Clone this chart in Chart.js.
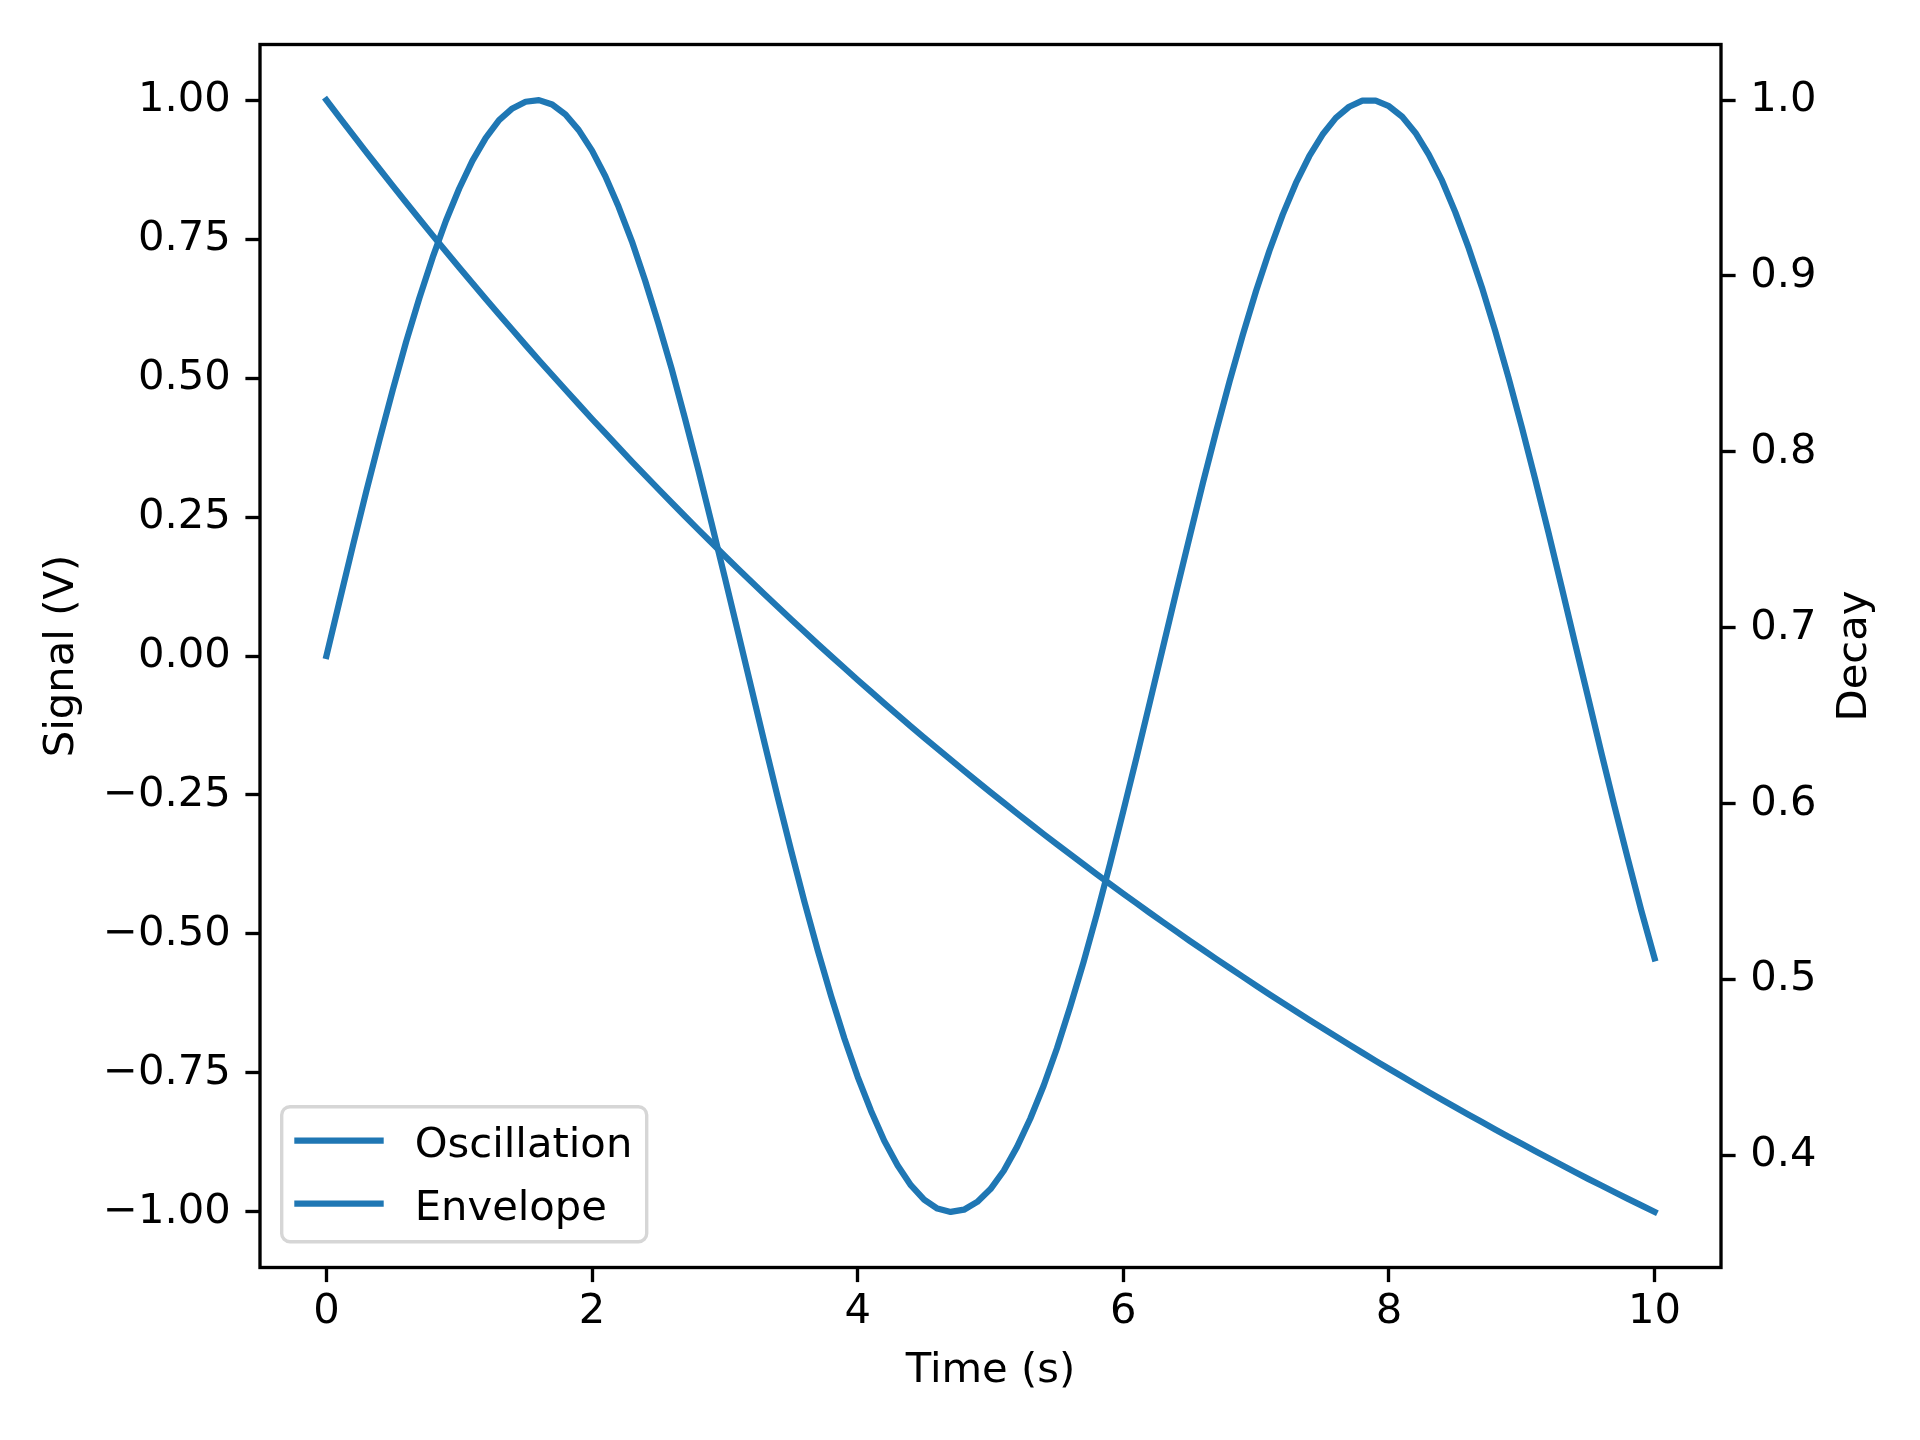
<!DOCTYPE html>
<html lang="en">
<head>
    <meta charset="UTF-8">
    <title>Oscillation and Envelope</title>
    <script src="https://cdn.jsdelivr.net/npm/chart.js"></script>
    <style>
        body {
            margin: 0;
            background: #ffffff;
        }
        #signalChart {
            display: block;
        }
    </style>
</head>
<body>
    <canvas id="signalChart" width="1920" height="1440"></canvas>

    <script>
        // values
        const timeValues = [
            0.0, 0.1, 0.2, 0.3, 0.4, 0.5, 0.6, 0.7, 0.8, 0.9,
            1.0, 1.1, 1.2, 1.3, 1.4, 1.5, 1.6, 1.7, 1.8, 1.9,
            2.0, 2.1, 2.2, 2.3, 2.4, 2.5, 2.6, 2.7, 2.8, 2.9,
            3.0, 3.1, 3.2, 3.3, 3.4, 3.5, 3.6, 3.7, 3.8, 3.9,
            4.0, 4.1, 4.2, 4.3, 4.4, 4.5, 4.6, 4.7, 4.8, 4.9,
            5.0, 5.1, 5.2, 5.3, 5.4, 5.5, 5.6, 5.7, 5.8, 5.9,
            6.0, 6.1, 6.2, 6.3, 6.4, 6.5, 6.6, 6.7, 6.8, 6.9,
            7.0, 7.1, 7.2, 7.3, 7.4, 7.5, 7.6, 7.7, 7.8, 7.9,
            8.0, 8.1, 8.2, 8.3, 8.4, 8.5, 8.6, 8.7, 8.8, 8.9,
            9.0, 9.1, 9.2, 9.3, 9.4, 9.5, 9.6, 9.7, 9.8, 9.9,
            10.0
        ];
        const oscillation = [
            0.000, 0.100, 0.199, 0.296, 0.389, 0.479, 0.565, 0.644, 0.717, 0.783,
            0.841, 0.891, 0.932, 0.964, 0.985, 0.997, 1.000, 0.992, 0.974, 0.946,
            0.909, 0.863, 0.808, 0.746, 0.675, 0.598, 0.516, 0.427, 0.335, 0.239,
            0.141, 0.042, -0.058, -0.158, -0.256, -0.351, -0.443, -0.530, -0.612, -0.688,
            -0.757, -0.818, -0.872, -0.916, -0.952, -0.978, -0.994, -1.000, -0.996, -0.982,
            -0.959, -0.926, -0.883, -0.832, -0.773, -0.706, -0.631, -0.551, -0.465, -0.374,
            -0.279, -0.182, -0.083, 0.017, 0.117, 0.215, 0.312, 0.405, 0.494, 0.578,
            0.657, 0.729, 0.794, 0.851, 0.899, 0.938, 0.968, 0.988, 0.999, 0.999,
            0.989, 0.970, 0.941, 0.902, 0.855, 0.798, 0.734, 0.663, 0.585, 0.501,
            0.412, 0.319, 0.223, 0.124, 0.024, -0.075, -0.175, -0.272, -0.366, -0.458,
            -0.544
        ];
        const envelope = [
            1.0000, 0.9900, 0.9802, 0.9704, 0.9608, 0.9512, 0.9418, 0.9324, 0.9231, 0.9139,
            0.9048, 0.8958, 0.8869, 0.8781, 0.8694, 0.8607, 0.8521, 0.8437, 0.8353, 0.8270,
            0.8187, 0.8106, 0.8025, 0.7945, 0.7866, 0.7788, 0.7711, 0.7634, 0.7558, 0.7483,
            0.7408, 0.7334, 0.7261, 0.7189, 0.7118, 0.7047, 0.6977, 0.6907, 0.6839, 0.6771,
            0.6703, 0.6637, 0.6570, 0.6505, 0.6440, 0.6376, 0.6313, 0.6250, 0.6188, 0.6126,
            0.6065, 0.6005, 0.5945, 0.5886, 0.5827, 0.5769, 0.5712, 0.5655, 0.5599, 0.5543,
            0.5488, 0.5434, 0.5379, 0.5326, 0.5273, 0.5220, 0.5169, 0.5117, 0.5066, 0.5016,
            0.4966, 0.4916, 0.4868, 0.4819, 0.4771, 0.4724, 0.4677, 0.4630, 0.4584, 0.4538,
            0.4493, 0.4449, 0.4404, 0.4360, 0.4317, 0.4274, 0.4232, 0.4190, 0.4148, 0.4107,
            0.4066, 0.4025, 0.3985, 0.3946, 0.3906, 0.3867, 0.3829, 0.3791, 0.3753, 0.3716,
            0.3679
        ];
        const timeTicks = [0, 2, 4, 6, 8, 10];
        const signalTicks = [-1.00, -0.75, -0.50, -0.25, 0.00, 0.25, 0.50, 0.75, 1.00];
        const decayTicks = [0.4, 0.5, 0.6, 0.7, 0.8, 0.9, 1.0];

        const blue = '#1f77b4';
        const fontFamily = '"DejaVu Sans", sans-serif';
        const fs = 41.7;
        const lw = 6.25;
        const tickLen = 14.6;
        const tickW = 3.33;

        function toPoints(xs, ys) {
            return xs.map(function(x, i) { return {x: x, y: ys[i]}; });
        }
        function minus(s) {
            return s.replace('-', '\u2212');
        }

        // frame around the plot, right axis title and the inner legend
        const framePlugin = {
            id: 'frame',
            afterDraw: function(chart) {
                const ctx = chart.ctx;
                const a = chart.chartArea;
                ctx.save();
                ctx.strokeStyle = '#000000';
                ctx.lineWidth = tickW;
                ctx.lineJoin = 'miter';
                ctx.strokeRect(a.left, a.top, a.right - a.left, a.bottom - a.top);

                // Decay label, reads bottom to top like the left one
                ctx.fillStyle = '#000000';
                ctx.font = fs + 'px ' + fontFamily;
                ctx.textAlign = 'center';
                ctx.textBaseline = 'middle';
                ctx.translate(a.right + 134, (a.top + a.bottom) / 2);
                ctx.rotate(-Math.PI / 2);
                ctx.fillText('Decay', 0, 0);
                ctx.restore();

                // legend box
                const bx = a.left + 21.7, by = a.bottom - 160.8, bw = 365, bh = 135, r = 8.3;
                ctx.save();
                ctx.beginPath();
                ctx.roundRect(bx, by, bw, bh, r);
                ctx.fillStyle = 'rgba(255,255,255,0.8)';
                ctx.fill();
                ctx.strokeStyle = '#d6d6d6';
                ctx.lineWidth = 3.4;
                ctx.stroke();
                ctx.font = fs + 'px ' + fontFamily;
                ctx.textAlign = 'left';
                ctx.textBaseline = 'alphabetic';
                chart.data.datasets.forEach(function(ds, i) {
                    const ly = by + 34 + i * 63;
                    ctx.beginPath();
                    ctx.moveTo(bx + 12.6, ly);
                    ctx.lineTo(bx + 102, ly);
                    ctx.strokeStyle = ds.borderColor;
                    ctx.lineWidth = lw;
                    ctx.lineCap = 'butt';
                    ctx.stroke();
                    ctx.fillStyle = '#000000';
                    ctx.fillText(ds.label, bx + 133, ly + 16);
                });
                ctx.restore();
            }
        };

        const ctx = document.getElementById('signalChart').getContext('2d');
        const signalChart = new Chart(ctx, {
            type: 'line',
            data: {
                datasets: [{
                    label: 'Oscillation',
                    data: toPoints(timeValues, oscillation),
                    yAxisID: 'y',
                    borderColor: blue,
                    borderWidth: lw,
                    borderCapStyle: 'square',
                    borderJoinStyle: 'round',
                    pointRadius: 0,
                    tension: 0,
                    fill: false
                }, {
                    label: 'Envelope',
                    data: toPoints(timeValues, envelope),
                    yAxisID: 'y2',
                    borderColor: blue,
                    borderWidth: lw,
                    borderCapStyle: 'square',
                    borderJoinStyle: 'round',
                    pointRadius: 0,
                    tension: 0,
                    fill: false
                }]
            },
            options: {
                responsive: false,
                animation: false,
                devicePixelRatio: 1,
                layout: {
                    padding: {top: 44.5, left: 0, right: 0, bottom: 0}
                },
                plugins: {
                    legend: {display: false},
                    tooltip: {enabled: false}
                },
                scales: {
                    x: {
                        type: 'linear',
                        position: 'bottom',
                        min: -0.5,
                        max: 10.5,
                        afterBuildTicks: function(scale) {
                            scale.ticks = timeTicks.map(function(v) { return {value: v}; });
                        },
                        afterFit: function(scale) { scale.height = 172.5; },
                        grid: {
                            drawOnChartArea: false,
                            tickLength: tickLen,
                            tickWidth: tickW,
                            tickColor: '#000000'
                        },
                        border: {display: false},
                        ticks: {
                            autoSkip: false,
                            maxRotation: 0,
                            padding: 5,
                            color: '#000000',
                            font: {family: fontFamily, size: fs},
                            callback: function(v) { return String(v); }
                        },
                        title: {
                            display: true,
                            text: 'Time (s)',
                            color: '#000000',
                            font: {family: fontFamily, size: fs, lineHeight: 1.2},
                            padding: {top: 0, bottom: 43.8}
                        }
                    },
                    y: {
                        type: 'linear',
                        position: 'left',
                        min: -1.1,
                        max: 1.1,
                        afterBuildTicks: function(scale) {
                            scale.ticks = signalTicks.map(function(v) { return {value: v}; });
                        },
                        afterFit: function(scale) { scale.width = 260; },
                        grid: {
                            drawOnChartArea: false,
                            tickLength: tickLen,
                            tickWidth: tickW,
                            tickColor: '#000000'
                        },
                        border: {display: false},
                        ticks: {
                            autoSkip: false,
                            padding: 14.6,
                            color: '#000000',
                            font: {family: fontFamily, size: fs},
                            callback: function(v) { return minus(v.toFixed(2)); }
                        },
                        title: {
                            display: true,
                            text: 'Signal (V)',
                            color: '#000000',
                            font: {family: fontFamily, size: fs, lineHeight: 1.2},
                            padding: {top: 37.3, bottom: 0}
                        }
                    },
                    y2: {
                        type: 'linear',
                        position: 'right',
                        min: 0.3363,
                        max: 1.0316,
                        afterBuildTicks: function(scale) {
                            scale.ticks = decayTicks.map(function(v) { return {value: v}; });
                        },
                        afterFit: function(scale) { scale.width = 199; },
                        grid: {
                            drawOnChartArea: false,
                            tickLength: tickLen,
                            tickWidth: tickW,
                            tickColor: '#000000'
                        },
                        border: {display: false},
                        ticks: {
                            autoSkip: false,
                            padding: 14.6,
                            color: '#000000',
                            font: {family: fontFamily, size: fs},
                            callback: function(v) { return v.toFixed(1); }
                        }
                    }
                }
            },
            plugins: [framePlugin]
        });
    </script>
</body>
</html>
